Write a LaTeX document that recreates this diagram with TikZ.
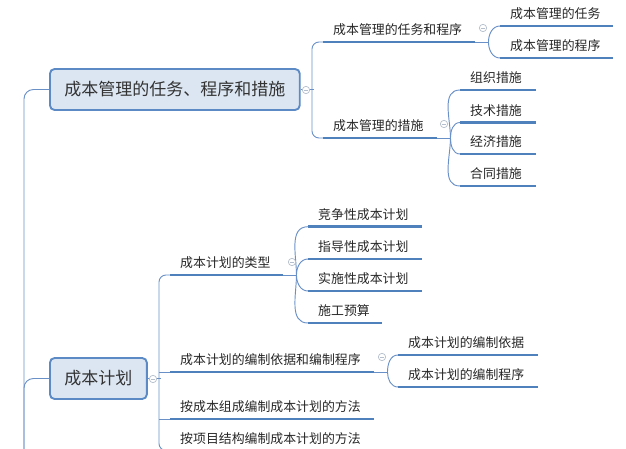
\documentclass[tikz,border=0pt]{standalone}
\usepackage{fontspec}
\newfontfamily\cjk{Noto Sans CJK SC}

\definecolor{boxfill}{HTML}{DCE6F2}
\definecolor{boxline}{HTML}{5B8AC5}
\definecolor{boxtext}{HTML}{333333}
\definecolor{ulcol}{HTML}{4F81BD}
\definecolor{linkcol}{HTML}{6A90C8}
\definecolor{foldcol}{HTML}{B4BECC}

\tikzset{
  mainbox/.style={draw=boxline, fill=boxfill, line width=1.6pt, rounded corners=4pt,
                  anchor=west, inner xsep=0.435cm, inner ysep=0, minimum height=1.23cm,
                  text=boxtext, font=\cjk\fontsize{14.5}{16}\selectfont},
  topic/.style={anchor=south west, inner xsep=0.3cm, inner ysep=0,
                minimum height=0.72cm, text width=#1, align=left, text=black!85,
                font=\cjk\fontsize{11}{13}\selectfont},
  uline/.style={draw=ulcol, line width=2.5pt},
  link/.style={draw=linkcol, line width=0.8pt},
  fold/.style={circle, draw=foldcol, fill=white, line width=0.6pt,
               minimum size=0.22cm, inner sep=0,
               path picture={\draw[foldcol, line width=0.6pt]
                 ([xshift=-0.06cm]path picture bounding box.center) --
                 ([xshift=0.06cm]path picture bounding box.center);}},
}

\begin{document}
\begin{tikzpicture}[x=0.03cm, y=-0.03cm]
    % 1 unit = 1 px of the 626 x 448 layout, y runs downwards
    \useasboundingbox (0,0) rectangle (626,448);

    % === main topics ===
    \node[mainbox] (g1) at (49,89.5)  {成本管理的任务、程序和措施};
    \node[mainbox] (g2) at (49,378.5) {成本计划};

    % === branch 1: task, procedure, measures ===
    \node[topic=3.96cm] (rwcx) at (323,42)  {成本管理的任务和程序};
    \node[topic=2.82cm] (glcs) at (323,138) {成本管理的措施};
    \node[topic=2.79cm] (rw) at (500,26) {成本管理的任务};
    \node[topic=2.79cm] (cx) at (500,58) {成本管理的程序};
    \node[topic=1.68cm] (zz) at (460,90)    {组织措施};
    \node[topic=1.68cm] (js) at (460,122.5) {技术措施};
    \node[topic=1.68cm] (jj) at (460,154)   {经济措施};
    \node[topic=1.68cm] (ht) at (460,186)   {合同措施};

    % === branch 2: cost plan ===
    \node[topic=2.79cm] (lx) at (170,275)   {成本计划的类型};
    \node[topic=2.82cm] (jz) at (308,226.7) {竞争性成本计划};
    \node[topic=2.82cm] (zd) at (308,259)   {指导性成本计划};
    \node[topic=2.82cm] (ss) at (308,291)   {实施性成本计划};
    \node[topic=1.62cm] (sg) at (308,323)   {施工预算};
    \node[topic=5.52cm] (yj) at (170,372)   {成本计划的编制依据和编制程序};
    \node[topic=3.60cm] (yj1) at (398,355)  {成本计划的编制依据};
    \node[topic=3.60cm] (yj2) at (398,387)  {成本计划的编制程序};
    \node[topic=5.52cm] (zc) at (170,419)   {按成本组成编制成本计划的方法};
    \node[topic=5.52cm] (xm) at (170,450.5) {按项目结构编制成本计划的方法};

    % === connectors ===
    \coordinate (trunk) at (24,470);
    \draw[link, rounded corners=8] (trunk) |- (g1.west);
    \draw[link, rounded corners=8] (trunk) |- (g2.west);

    \draw[link] (g1.east) -- ++(13,0);
    \draw[link, rounded corners=6] (rwcx.south west) -- ++(-11,0) |- (glcs.south west);

    \draw[link] (rwcx.south east) -- ++(13,0) coordinate (rwcxj);
    \foreach \c/\o in {rw/90, cx/-90}
      \draw[link] (rwcxj) to[out=\o, in=180] (\c.south west);

    \draw[link] (glcs.south east) -- ++(13,0) coordinate (glcsj);
    \foreach \c/\o in {zz/90, js/90, jj/-90, ht/-90}
      \draw[link] (glcsj) to[out=\o, in=180] (\c.south west);

    \draw[link] (g2.east) -- ++(13,0);
    \draw[link, rounded corners=6] (lx.south west) -- ++(-11,0) |- (xm.south west);
    \draw[link] (yj.south west) -- ++(-11,0);
    \draw[link] (zc.south west) -- ++(-11,0);

    \draw[link] (lx.south east) -- ++(13,0) coordinate (lxj);
    \foreach \c/\o in {jz/90, zd/90, ss/-90, sg/-90}
      \draw[link] (lxj) to[out=\o, in=180] (\c.south west);

    \draw[link] (yj.south east) -- ++(13,0) coordinate (yjj);
    \foreach \c/\o in {yj1/90, yj2/-90}
      \draw[link] (yjj) to[out=\o, in=180] (\c.south west);

    % underlines of the topics
    \foreach \n in {rwcx,glcs,rw,cx,zz,js,jj,ht,lx,jz,zd,ss,sg,yj,yj1,yj2,zc,xm}
      \draw[uline] (\n.south west) -- (\n.south east);

    % collapse markers
    \node[fold] (f1) at (306,90)  {};
    \node[fold] (f2) at (483,28)  {};
    \node[fold] (f3) at (444,124) {};
    \node[fold] (f4) at (153,379) {};
    \node[fold] (f5) at (292,262) {};
    \node[fold] (f6) at (382,357) {};
\end{tikzpicture}
\end{document}
